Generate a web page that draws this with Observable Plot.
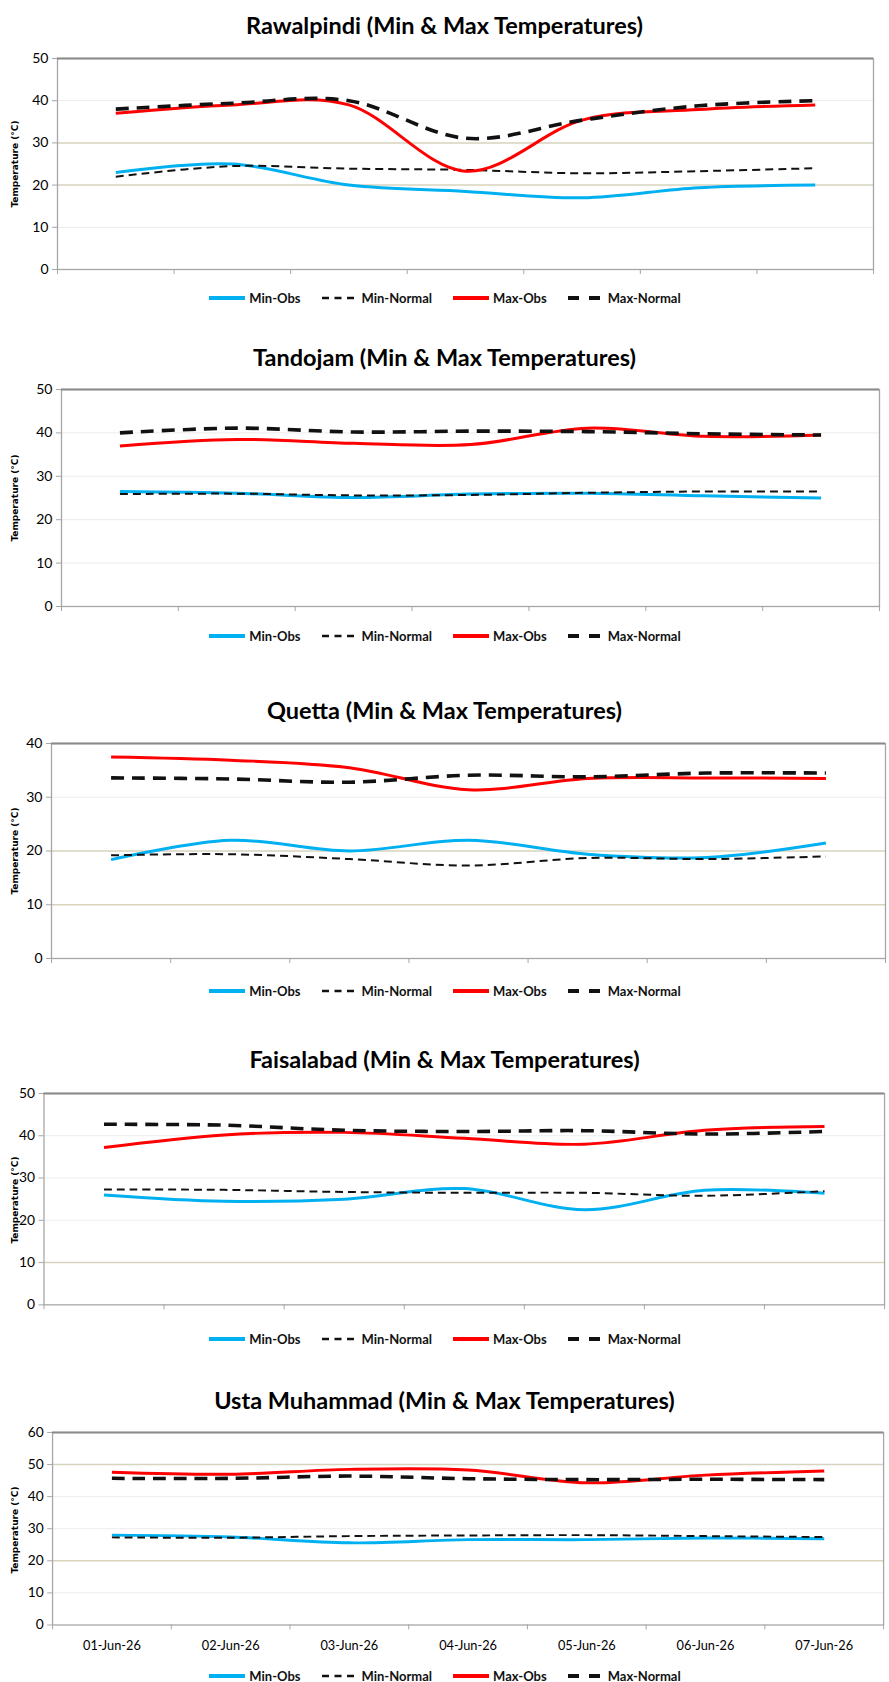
<!DOCTYPE html>
<html>
<head>
<meta charset="utf-8">
<script src="https://cdn.jsdelivr.net/npm/d3@7"></script>
<script src="https://cdn.jsdelivr.net/npm/@observablehq/plot@0.6"></script>
<style>
  html, body { margin: 0; padding: 0; background: #fff; overflow: hidden; }
  body { width: 889px; height: 1682px; position: relative; font-family: Lato, "Open Sans", sans-serif; }
  .title { position: absolute; left: 0; width: 889px; text-align: center; font-weight: 700; font-size: 23.5px; line-height: 28px; color: #000; }
  .chart { position: absolute; left: 0; }
  .ylab { position: absolute; width: 200px; text-align: center; font-family: "DejaVu Sans", sans-serif; font-size: 9px; font-weight: 700; line-height: 12px; color: #000; transform: rotate(-90deg); transform-origin: 50% 50%; white-space: nowrap; }
  .legend { position: absolute; left: 0; width: 889px; display: flex; justify-content: center; align-items: center; font-size: 13px; font-weight: 700; color: #111; line-height: 16px; }
  .legend .item { display: flex; align-items: center; margin: 0 10px; }
  .legend svg { margin-right: 3px; }
</style>
</head>
<body>
<script>
// ---------- data ----------
const dates = ["01-Jun-26", "02-Jun-26", "03-Jun-26", "04-Jun-26", "05-Jun-26", "06-Jun-26", "07-Jun-26"];
const stations = ["Rawalpindi", "Tandojam", "Quetta", "Faisalabad", "Usta Muhammad"];
const seriesNames = ["Min-Obs", "Min-Normal", "Max-Obs", "Max-Normal"];
const yAxisTitle = "Temperature (°C)";

const rawalpindiMinObs    = [23, 25, 20, 18.5, 17, 19.4, 20];
const rawalpindiMinNormal = [22, 24.5, 23.9, 23.6, 22.8, 23.3, 24];
const rawalpindiMaxObs    = [37, 39, 39, 23.3, 35.4, 37.9, 39];
const rawalpindiMaxNormal = [38, 39.4, 40, 31.1, 35.4, 38.8, 40];

const tandojamMinObs    = [26.5, 26.1, 25.1, 25.9, 26.1, 25.5, 25];
const tandojamMinNormal = [25.9, 26, 25.6, 25.7, 26.2, 26.5, 26.5];
const tandojamMaxObs    = [37, 38.5, 37.6, 37.3, 41.1, 39.2, 39.5];
const tandojamMaxNormal = [40, 41.1, 40.2, 40.4, 40.3, 39.8, 39.5];

const quettaMinObs    = [18.4, 22, 20, 22, 19.4, 18.8, 21.5];
const quettaMinNormal = [19.2, 19.4, 18.5, 17.3, 18.7, 18.5, 19];
const quettaMaxObs    = [37.5, 36.9, 35.5, 31.4, 33.5, 33.6, 33.5];
const quettaMaxNormal = [33.6, 33.4, 32.8, 34.1, 33.8, 34.5, 34.5];

const faisalabadMinObs    = [26, 24.5, 25, 27.5, 22.5, 27.1, 26.4];
const faisalabadMinNormal = [27.3, 27.2, 26.7, 26.5, 26.5, 25.8, 26.9];
const faisalabadMaxObs    = [37.2, 40.2, 40.8, 39.4, 38, 41.3, 42.2];
const faisalabadMaxNormal = [42.7, 42.5, 41.3, 41, 41.2, 40.4, 41];

const ustaMinObs    = [28, 27.4, 25.6, 26.6, 26.6, 27.1, 26.9];
const ustaMinNormal = [27.3, 27.2, 27.7, 27.9, 28, 27.7, 27.4];
const ustaMaxObs    = [47.6, 47, 48.5, 48.3, 44.3, 46.7, 48];
const ustaMaxNormal = [45.7, 45.7, 46.4, 45.6, 45.3, 45.4, 45.3];

const stationSeries = [
  [rawalpindiMinObs, rawalpindiMinNormal, rawalpindiMaxObs, rawalpindiMaxNormal],
  [tandojamMinObs, tandojamMinNormal, tandojamMaxObs, tandojamMaxNormal],
  [quettaMinObs, quettaMinNormal, quettaMaxObs, quettaMaxNormal],
  [faisalabadMinObs, faisalabadMinNormal, faisalabadMaxObs, faisalabadMaxNormal],
  [ustaMinObs, ustaMinNormal, ustaMaxObs, ustaMaxNormal]
];
const yMax = [50, 50, 40, 50, 60];

// ---------- styles / layout ----------
const seriesStyle = [
  {stroke: "#00b0f0", strokeWidth: 3, strokeDasharray: null},
  {stroke: "#111", strokeWidth: 2, strokeDasharray: "8,5"},
  {stroke: "#ff0000", strokeWidth: 3, strokeDasharray: null},
  {stroke: "#111", strokeWidth: 3.6, strokeDasharray: "13,8"}
];
const layout = [
  {title: 25,   top: 58,   plotH: 211, ml: 57, mr: 16, w: 889, legend: 298,  tan: [20, 30], xlabels: false},
  {title: 357,  top: 389,  plotH: 217, ml: 61, mr: 10, w: 889, legend: 636,  tan: [], xlabels: false},
  {title: 710,  top: 743,  plotH: 215, ml: 51, mr: 4,  w: 889, legend: 991,  tan: [10, 20], xlabels: false},
  {title: 1059, top: 1093, plotH: 214, ml: 44, mr: 5,  w: 900, legend: 1339, tan: [10], xlabels: false},
  {title: 1400, top: 1432, plotH: 196, ml: 53, mr: 6,  w: 905, legend: 1676, tan: [20, 50], xlabels: true}
];

function swatch(st) {
  const ns = "http://www.w3.org/2000/svg";
  const svg = document.createElementNS(ns, "svg");
  svg.setAttribute("width", 38); svg.setAttribute("height", 10);
  const l = document.createElementNS(ns, "line");
  l.setAttribute("x1", 1); l.setAttribute("x2", 37); l.setAttribute("y1", 5); l.setAttribute("y2", 5);
  l.setAttribute("stroke", st.stroke);
  l.setAttribute("stroke-width", st.strokeWidth + (st.strokeDasharray ? 0.5 : 1.2));
  if (st.strokeDasharray) l.setAttribute("stroke-dasharray", st.strokeDasharray === "8,5" ? "7,5.5" : "11,10");
  svg.appendChild(l);
  return svg;
}

stations.forEach((name, k) => {
  const L = layout[k];
  const ymax = yMax[k];
  const ticks = d3.range(0, ymax + 1, 10);
  const grid = ticks.filter(t => t > 0 && t < ymax);
  const tanGrid = grid.filter(t => L.tan.includes(t));
  const lightGrid = grid.filter(t => !L.tan.includes(t));
  const mb = L.xlabels ? 36 : 10;

  // title
  const t = document.createElement("div");
  t.className = "title";
  t.style.top = (L.title - 14) + "px";
  t.textContent = `${name} (Min & Max Temperatures)`;
  document.body.appendChild(t);

  const marks = [
    Plot.ruleY(lightGrid, {stroke: "#ececec", strokeWidth: 1}),
    Plot.ruleY(tanGrid, {stroke: "#d8d3bd", strokeWidth: 1.5}),
    Plot.frame({stroke: "#a6a6a6", strokeWidth: 1.3}),
    Plot.ruleY([ymax], {stroke: "#8a8a8a", strokeWidth: 2}),
    Plot.axisY({ticks, tickSize: 5, tickPadding: 4, fontSize: 14, stroke: "#a6a6a6", label: null}),
    Plot.axisX({ticks: d3.range(-0.5, 7, 1), tickSize: 5, tickFormat: () => "", stroke: "#a6a6a6", label: null})
  ];
  if (L.xlabels) {
    marks.push(Plot.axisX({ticks: d3.range(0, 7), tickSize: 0, tickPadding: 16, fontSize: 13, tickFormat: i => dates[i], label: null}));
  }
  stationSeries[k].forEach((vals, s) => {
    const st = seriesStyle[s];
    const opts = {curve: "cardinal", stroke: st.stroke, strokeWidth: st.strokeWidth, strokeLinecap: "butt", strokeLinejoin: "round"};
    if (st.strokeDasharray) opts.strokeDasharray = st.strokeDasharray;
    marks.push(Plot.lineY(vals, opts));
  });

  const chart = Plot.plot({
    width: L.w,
    height: L.plotH + 2 + mb,
    marginTop: 2,
    marginBottom: mb,
    marginLeft: L.ml,
    marginRight: L.mr,
    x: {type: "linear", domain: [-0.5, 6.5], axis: null},
    y: {type: "linear", domain: [0, ymax], axis: null},
    style: {fontFamily: "Lato, 'Open Sans', sans-serif", fontSize: "13px", color: "#000", background: "transparent", overflow: "visible"},
    marks
  });
  const wrap = document.createElement("div");
  wrap.className = "chart";
  wrap.style.top = (L.top - 2) + "px";
  wrap.appendChild(chart);
  document.body.appendChild(wrap);

  // y axis title
  const yl = document.createElement("div");
  yl.className = "ylab";
  const cy = L.top + L.plotH / 2;
  yl.style.left = (15 - 100) + "px";
  yl.style.top = (cy - 6) + "px";
  yl.textContent = yAxisTitle;
  document.body.appendChild(yl);

  // legend
  const lg = document.createElement("div");
  lg.className = "legend";
  lg.style.top = (L.legend - 8) + "px";
  seriesNames.forEach((sn, s) => {
    const it = document.createElement("div");
    it.className = "item";
    it.appendChild(swatch(seriesStyle[s]));
    const sp = document.createElement("span");
    sp.textContent = sn;
    it.appendChild(sp);
    lg.appendChild(it);
  });
  document.body.appendChild(lg);
});
</script>
</body>
</html>
